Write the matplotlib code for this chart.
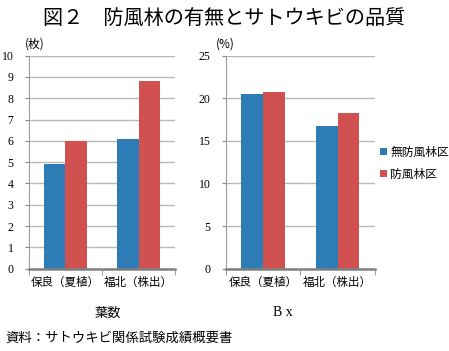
import matplotlib.pyplot as plt
import numpy as np

plt.rcParams['font.family'] = ['Noto Sans CJK JP', 'DejaVu Sans']

categories = ['保良（夏植）', '福北（株出）']
series_names = ['無防風林区', '防風林区']
leaves_none = [4.9, 6.1]
leaves_wind = [6.0, 8.8]
brix_none = [20.5, 16.7]
brix_wind = [20.7, 18.3]

blue = '#2e7cb6'
red = '#d05150'
num_font = 'Liberation Serif'

fig = plt.figure(figsize=(4.49, 3.51), dpi=100)


def draw(ax, none_vals, wind_vals, ymax, step):
    x = np.arange(len(categories))
    w = 0.29
    ax.bar(x - w / 2, none_vals, w, color=blue, label=series_names[0], zorder=3)
    ax.bar(x + w / 2, wind_vals, w, color=red, label=series_names[1], zorder=3)
    ax.set_xlim(-0.5, len(categories) - 0.5)
    ax.set_ylim(0, ymax)
    ticks = np.arange(0, ymax + step / 2, step)
    ax.set_yticks(ticks)
    ax.set_yticklabels([str(int(t)) for t in ticks], family=num_font, fontsize=8.5)
    ax.yaxis.grid(True, color='#b8b8b8', lw=1, zorder=0)
    ax.set_xticks(x)
    ax.set_xticklabels(categories, fontsize=8.3)
    ax.tick_params(axis='x', length=0, pad=5)
    ax.set_xticks(np.arange(-0.5, len(categories), 1), minor=True)
    ax.tick_params(axis='x', which='minor', length=4, color='#888888')
    ax.tick_params(axis='y', length=3, color='#888888', pad=8)
    for s in ['top', 'right']:
        ax.spines[s].set_visible(False)
    ax.spines['left'].set_color('#999999')
    ax.spines['bottom'].set_color('#808080')
    ax.spines['bottom'].set_linewidth(1.8)
    ax.spines['bottom'].set_zorder(4)


ax1 = fig.add_axes([0.064, 0.2345, 0.326, 0.607])
draw(ax1, leaves_none, leaves_wind, 10, 1)
ax2 = fig.add_axes([0.5027, 0.2345, 0.3325, 0.607])
draw(ax2, brix_none, brix_wind, 25, 5)

handles, labels = ax2.get_legend_handles_labels()
fig.legend(handles, labels, loc='center left', bbox_to_anchor=(0.835, 0.535),
           frameon=False, fontsize=8.5, handlelength=0.6, handleheight=0.6,
           handletextpad=0.3, labelspacing=0.75, borderaxespad=0)

fig.text(0.5, 0.948, '図２　防風林の有無とサトウキビの品質', ha='center', va='center', fontsize=14.5)
fig.text(25 / 449, 1 - 44 / 351, '(枚)', ha='left', va='center', fontsize=8.5)
fig.text(216 / 449, 1 - 44 / 351, '(%)', ha='left', va='center', fontsize=8.5)
fig.text(108 / 449, 1 - 313 / 351, '葉数', ha='center', va='center', fontsize=9.5)
fig.text(283 / 449, 1 - 313 / 351, 'B x', ha='center', va='center', fontsize=10, family=num_font)
fig.text(5 / 449, 1 - 338 / 351, '資料：サトウキビ関係試験成績概要書', ha='left', va='center', fontsize=9.6)

fig.savefig('out.png', dpi=100)
